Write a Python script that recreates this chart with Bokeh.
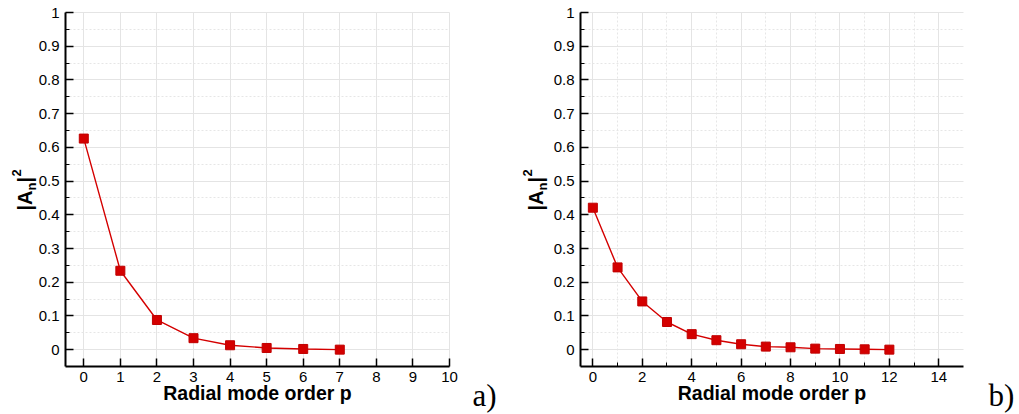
import math
from bokeh.plotting import figure
from bokeh.models import Range1d, FixedTicker, Label
from bokeh.layouts import row
from bokeh.embed import file_html
from bokeh.resources import INLINE

# ---- data ----
p_a = [0, 1, 2, 3, 4, 5, 6, 7]
amp_a = [0.626, 0.234, 0.088, 0.034, 0.013, 0.005, 0.002, 0.0]

p_b = [0, 1, 2, 3, 4, 5, 6, 7, 8, 9, 10, 11, 12]
amp_b = [0.421, 0.244, 0.143, 0.082, 0.046, 0.028, 0.016, 0.009, 0.007, 0.003, 0.002, 0.001, 0.0]

y_ticks = [0, 0.1, 0.2, 0.3, 0.4, 0.5, 0.6, 0.7, 0.8, 0.9, 1.0]
y_tick_labels = ["0", "0.1", "0.2", "0.3", "0.4", "0.5", "0.6", "0.7", "0.8", "0.9", "1"]
y_minor = [0.05, 0.15, 0.25, 0.35, 0.45, 0.55, 0.65, 0.75, 0.85, 0.95]

x_ticks_a = [0, 1, 2, 3, 4, 5, 6, 7, 8, 9, 10]
x_minor_a = []
x_ticks_b = [0, 2, 4, 6, 8, 10, 12, 14]
x_minor_b = [1, 3, 5, 7, 9, 11, 13]

x_title = "Radial mode order p"
RED = "#d40000"
SANS = "Liberation Sans"

H = 414
Y_LO, Y_HI = -0.05, 1.0
FT, FB = 12, 366  # pixel rows of y=1 and y=-0.05
SHIFT = 0.4       # observed baseline shift of Label text, in em


def panel(px, amp, x_hi, xt, xm, W, fl, fr, ylab_x, tag, tag_x):
    xs = (fr - fl) / (x_hi - (-0.5))
    ys = (FB - FT) / (Y_HI - Y_LO)
    x0 = -0.5 - fl / xs
    x1 = x_hi + (W - fr) / xs
    y1 = Y_HI + FT / ys
    y0 = Y_LO - (H - FB) / ys

    def dx(pix):
        return x0 + pix / xs

    def dy(pix):
        return y1 - pix / ys

    p = figure(width=W, height=H, min_border=0,
               x_range=Range1d(x0, x1), y_range=Range1d(y0, y1),
               output_backend="svg", toolbar_location=None, tools="")
    p.outline_line_color = None
    p.background_fill_color = "white"
    p.border_fill_color = "white"

    p.xaxis.ticker = FixedTicker(ticks=xt, minor_ticks=xm)
    p.yaxis.ticker = FixedTicker(ticks=y_ticks, minor_ticks=y_minor)
    p.yaxis.major_label_overrides = dict(zip(y_ticks, y_tick_labels))
    p.xaxis.bounds = (-0.5, x_hi)
    p.yaxis.bounds = (Y_LO, Y_HI)
    p.xaxis.fixed_location = Y_LO
    p.yaxis.fixed_location = -0.5
    for ax in (p.xaxis[0], p.yaxis[0]):
        ax.axis_line_width = 2
        ax.axis_line_color = "black"
        ax.major_tick_in = 8
        ax.major_tick_out = 0
        ax.minor_tick_in = 4
        ax.minor_tick_out = 0
        ax.major_tick_line_width = 1.5
        ax.minor_tick_line_width = 1
        ax.major_tick_line_color = "black"
        ax.minor_tick_line_color = "black"
        ax.major_label_text_font = SANS
        ax.major_label_text_font_size = "15px"
        ax.major_label_text_color = "black"
    p.xaxis.major_label_standoff = 5
    p.yaxis.major_label_standoff = 6

    p.xgrid.bounds = (-0.5, x_hi)
    p.xgrid.cross_bounds = (Y_LO, Y_HI)
    p.ygrid.bounds = (Y_LO, Y_HI)
    p.ygrid.cross_bounds = (-0.5, x_hi)
    p.grid.grid_line_color = "#e4e4e4"
    p.grid.grid_line_width = 1
    p.grid.minor_grid_line_color = "#e6e6e6"
    p.grid.minor_grid_line_dash = "2 2"
    p.grid.minor_grid_line_width = 1

    p.line(px, amp, line_color=RED, line_width=1.4)
    p.scatter(px, amp, marker="square", size=9, fill_color=RED, line_color="#c00000", line_width=1)

    # x axis title (baseline at pixel row 400)
    fs = 19.5
    p.add_layout(Label(x=dx((fl + fr) / 2), y=dy(400 - SHIFT * fs), text=x_title,
                       text_font=SANS, text_font_style="bold", text_font_size=f"{fs}px",
                       text_align="center", text_baseline="alphabetic", text_color="black"))
    # y axis title |A_n|^2, rotated (reads bottom to top); baseline at column ylab_x
    a = math.pi / 2
    segs = [("|A", 0, 210, 20), ("n", 4, 190, 13), ("|", 0, 182, 20), ("2", -11, 176, 13)]
    for txt, off, ypix, f in segs:
        p.add_layout(Label(x=dx(ylab_x + off - SHIFT * f), y=dy(ypix), text=txt,
                           angle=a, text_font=SANS, text_font_style="bold", text_font_size=f"{f}px",
                           text_align="left", text_baseline="alphabetic", text_color="black"))
    # panel tag (baseline at pixel row 407)
    ft = 31
    p.add_layout(Label(x=dx(tag_x), y=dy(407 - SHIFT * ft), text=tag,
                       text_font="Liberation Serif", text_font_size=f"{ft}px",
                       text_align="left", text_baseline="alphabetic", text_color="black"))
    return p


pa = panel(p_a, amp_a, 10, x_ticks_a, x_minor_a, 510, 65, 449, 32, "a)", 472)
pb = panel(p_b, amp_b, 15, x_ticks_b, x_minor_b, 509, 70, 453, 33, "b)", 478)

layout = row(pa, pb)
open("out.html", "w").write(file_html(layout, INLINE))
